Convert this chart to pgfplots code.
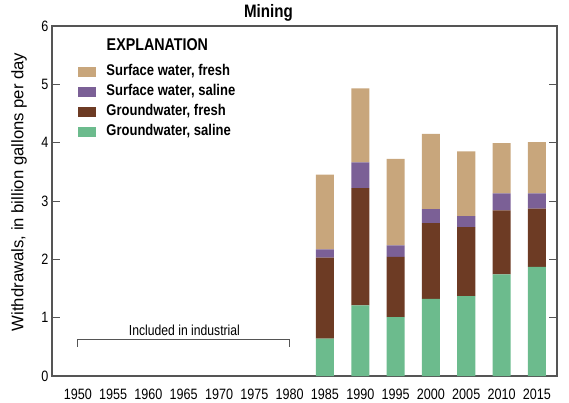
\documentclass[border=0pt]{standalone}
\usepackage{fontspec}
\setmainfont{Liberation Sans}[FakeStretch=0.84]
\newfontfamily\widefont{Liberation Sans}
\usepackage{pgfplots}
\pgfplotsset{compat=1.18}

\definecolor{swfresh}{RGB}{200,166,124}
\definecolor{swsaline}{RGB}{123,96,150}
\definecolor{gwfresh}{RGB}{109,59,36}
\definecolor{gwsaline}{RGB}{108,187,141}
\definecolor{frame}{RGB}{85,85,85}

% Mining withdrawals, billion gallons per day (x: 0 = 1950, step 5 years)
\pgfplotstableread{
x   gwsal gwfr swsal swfr
7   0.64  1.39 0.14  1.28
8   1.21  2.01 0.44  1.27
9   1.01  1.03 0.20  1.48
10  1.32  1.30 0.24  1.29
11  1.37  1.18 0.19  1.11
12  1.74  1.10 0.29  0.86
13  1.87  1.00 0.26  0.88
}\mining

\begin{document}
\begin{tikzpicture}
\begin{axis}[
  scale only axis,
  width=505pt, height=350pt,
  xmin=-0.73, xmax=13.57,
  ymin=0, ymax=6,
  ybar stacked,
  bar width=0.51,
  xtick={0,...,13},
  xticklabels={1950,1955,1960,1965,1970,1975,1980,1985,1990,1995,2000,2005,2010,2015},
  ytick={0,...,6},
  /pgf/number format/assume math mode=true,
  tick label style={font=\fontsize{15}{17}\selectfont},
  xticklabel style={yshift=-9pt},
  x tick style={draw=none},
  ytick pos=both,
  tick align=inside,
  major tick length=8pt,
  y tick style={frame, line width=0.9pt},
  axis line style={frame, line width=1.1pt},
  ylabel={Withdrawals, in billion gallons per day},
  ylabel style={font=\widefont\fontsize{16.7}{18}\selectfont, at={(axis description cs:-0.065,0.526)}, anchor=center},
  reverse legend,
  legend image code/.code={\fill[#1] (0pt,-5pt) rectangle (18pt,5pt);},
  legend style={draw=none, fill=none, at={(rel axis cs:0.046,0.90)}, anchor=north west,
    font=\bfseries\fontsize{15.5}{17}\selectfont,
    nodes={text height=10pt, text depth=3pt, inner sep=2pt},
    row sep=3pt, cells={anchor=west}},
  legend cell align=left,
  clip=false,
]
\addplot[fill=gwsaline, draw=none] table[x=x, y=gwsal] {\mining};
\addlegendentry{\hspace{8pt}Groundwater, saline}
\addplot[fill=gwfresh, draw=none] table[x=x, y=gwfr] {\mining};
\addlegendentry{\hspace{8pt}Groundwater, fresh}
\addplot[fill=swsaline, draw=none] table[x=x, y=swsal] {\mining};
\addlegendentry{\hspace{8pt}Surface water, saline}
\addplot[fill=swfresh, draw=none] table[x=x, y=swfr] {\mining};
\addlegendentry{\hspace{8pt}Surface water, fresh}

% bracket for years reported with industrial use
\draw[frame, line width=0.9pt] (axis cs:0,0.50) -- (axis cs:0,0.63) -- (axis cs:6,0.63) -- (axis cs:6,0.50);
\node[font=\fontsize{14.5}{16}\selectfont] at (axis cs:3.02,0.79) {Included in industrial};

\node[font=\bfseries\fontsize{17}{19}\selectfont, anchor=west] at (axis cs:0.72,5.68) {EXPLANATION};
\node[font=\bfseries\fontsize{18}{20}\selectfont] at (axis cs:5.4,6.23) {Mining};
\end{axis}
\path (current axis.south west) ++(-52pt,-23pt) rectangle ++(569pt,399pt);
\end{tikzpicture}
\end{document}
